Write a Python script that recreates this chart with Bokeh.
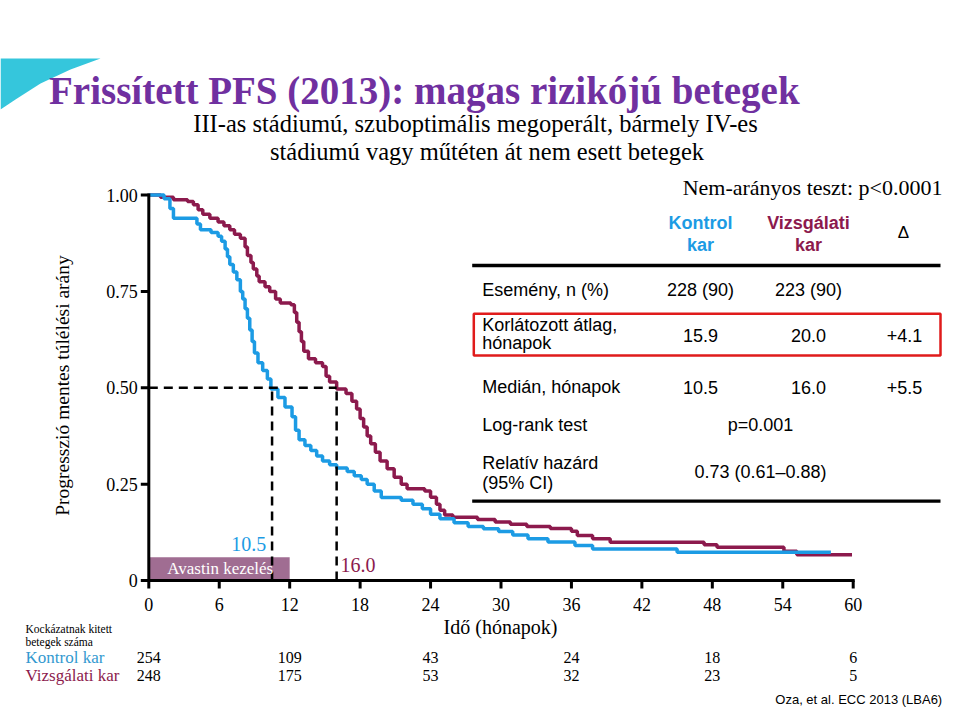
import math
from bokeh.plotting import figure
from bokeh.models import Label, Range1d, PolyAnnotation
from bokeh.embed import file_html
from bokeh.resources import INLINE

# ---------------- data ----------------
kontrol_t = [0, 1.3, 1.8, 2.1, 4.1, 4.4, 5.3, 5.9, 6.2, 6.5, 6.7, 6.9, 7.2, 7.5, 7.8, 8.0,
             8.2, 8.4, 8.6, 8.8, 9.0, 9.3, 9.7, 10.1, 10.4, 11.0, 11.6, 12.2, 12.5, 12.8,
             13.3, 13.8, 14.3, 14.8, 15.4, 16.0, 16.9, 17.5, 18.1, 18.6, 19.2, 19.8, 21.5,
             22.5, 23.3, 24.0, 24.8, 26.0, 27.2, 28.5, 29.8, 31.0, 32.3, 34.0, 36.3, 37.8,
             45.0, 58.1]
kontrol_s = [1.0, 0.99, 0.965, 0.94, 0.925, 0.91, 0.903, 0.893, 0.88, 0.86, 0.84, 0.82,
             0.80, 0.78, 0.75, 0.73, 0.705, 0.68, 0.65, 0.62, 0.59, 0.565, 0.545, 0.523,
             0.497, 0.475, 0.45, 0.425, 0.39, 0.365, 0.35, 0.337, 0.323, 0.31, 0.30, 0.292,
             0.283, 0.272, 0.262, 0.25, 0.232, 0.215, 0.208, 0.198, 0.186, 0.172, 0.16,
             0.15, 0.14, 0.134, 0.127, 0.118, 0.108, 0.10, 0.091, 0.082, 0.073, 0.073]

vizsg_t = [0, 1.0, 2.1, 3.3, 3.8, 4.2, 4.6, 5.2, 5.9, 6.4, 6.9, 7.3, 7.8, 8.2, 8.4, 8.7,
           8.9, 9.2, 9.4, 9.9, 10.3, 10.8, 11.2, 12.1, 12.4, 12.6, 12.8, 13.0, 13.2, 13.6,
           14.2, 14.8, 15.1, 15.4, 16.0, 16.8, 17.3, 17.7, 18.0, 18.3, 18.6, 18.9, 19.3,
           19.7, 20.3, 20.9, 21.5, 22.0, 23.5, 24.0, 24.5, 24.8, 25.2, 25.9, 28.0, 29.5,
           30.8, 32.2, 34.2, 36.0, 36.5, 37.8, 39.3, 47.3, 48.4, 54.1, 55.2, 59.9]
vizsg_s = [1.0, 0.994, 0.988, 0.983, 0.975, 0.962, 0.95, 0.94, 0.93, 0.92, 0.91, 0.898,
           0.888, 0.865, 0.843, 0.825, 0.808, 0.79, 0.775, 0.762, 0.75, 0.73, 0.72, 0.715,
           0.695, 0.67, 0.645, 0.62, 0.595, 0.575, 0.565, 0.555, 0.53, 0.515, 0.497, 0.485,
           0.465, 0.445, 0.42, 0.398, 0.375, 0.355, 0.333, 0.31, 0.29, 0.268, 0.25, 0.238,
           0.232, 0.216, 0.198, 0.182, 0.17, 0.164, 0.158, 0.152, 0.146, 0.14, 0.135,
           0.128, 0.117, 0.108, 0.099, 0.093, 0.086, 0.076, 0.067, 0.067]

medians = [10.5, 16.0]
median_level = 0.5
avastin_end = 12
x_ticks = [0, 6, 12, 18, 24, 30, 36, 42, 48, 54, 60]
y_ticks = [0, 0.25, 0.5, 0.75, 1.0]
y_tick_labels = ["0", "0.25", "0.50", "0.75", "1.00"]

risk_times = [0, 12, 24, 36, 48, 60]
risk_kontrol = [254, 109, 43, 24, 18, 6]
risk_vizsg = [248, 175, 53, 32, 23, 5]

row_events = ["228 (90)", "223 (90)", ""]
row_rmst = ["15.9", "20.0", "+4.1"]
row_median = ["10.5", "16.0", "+5.5"]
logrank_p = "p=0.001"
hazard_ratio = "0.73 (0.61\u20130.88)"

# ---------------- layout ----------------
W, H = 960, 716
PXM = 11.74     # px per month
PXS = 385.5     # px per unit survival
X0 = 148.3      # page x of month 0
Y0 = 580.0      # page y of survival 0
BASE_FIX = 0.33  # em shift so that the given y is the visual baseline


def fx(px):
    return (px - X0) / PXM


def fy(py):
    return (Y0 - py) / PXS


def dx(n):
    return n / PXM


def dy(n):
    return n / PXS


BLUE = "#1c9be4"
MAROON = "#8c1a4d"
SERIF = "Liberation Serif"
SANS = "Liberation Sans"

p = figure(width=W, height=H, x_range=Range1d(fx(0), fx(W)), y_range=Range1d(fy(H), fy(0)),
           output_backend="svg", toolbar_location=None,
           x_axis_location=None, y_axis_location=None,
           min_border_left=0, min_border_right=0, min_border_top=0, min_border_bottom=0)
p.outline_line_color = None
p.grid.visible = False
p.background_fill_color = "white"
p.border_fill_color = "white"


def lab(px, py, text, size, color="black", font=SERIF, align="left",
        baseline="alphabetic", style="normal", angle=0.0, x_data=None):
    if baseline == "alphabetic":
        py = py - BASE_FIX * size
    p.add_layout(Label(x=fx(px) if x_data is None else x_data, y=fy(py), text=text,
                       text_font=font, text_font_size=f"{size}px", text_color=color,
                       text_align=align, text_baseline=baseline, text_font_style=style,
                       angle=angle))


# decoration (top-left swoosh)
p.add_layout(PolyAnnotation(xs=[fx(0), fx(100), fx(70), fx(40), fx(15), fx(0)],
                            ys=[fy(58), fy(58), fy(69), fy(83), fy(99), fy(109)],
                            fill_color="#1fc0d8", fill_alpha=0.9, line_color=None))

# Avastin treatment box
p.quad(left=[0], right=[avastin_end], bottom=[0], top=[dy(23.3)],
       fill_color="#a06d92", line_color=None)

# survival curves
p.step(vizsg_t, vizsg_s, mode="after", line_width=3.5, line_color=MAROON)
p.step(kontrol_t, kontrol_s, mode="after", line_width=3.5, line_color=BLUE)

# median guides
p.segment(x0=[0], x1=[medians[1]], y0=[median_level], y1=[median_level],
          line_color="black", line_width=2.5, line_dash="9 6")
p.segment(x0=medians, x1=medians, y0=[0, 0], y1=[median_level, median_level],
          line_color="black", line_width=2.5, line_dash="9 6")

# ---------------- axes ----------------
p.segment(x0=[0, 0], y0=[0, 0], x1=[x_ticks[-1], 0], y1=[0, y_ticks[-1]],
          line_color="black", line_width=3, line_cap="square")
p.segment(x0=x_ticks, x1=x_ticks, y0=[0] * len(x_ticks), y1=[-dy(8)] * len(x_ticks),
          line_color="black", line_width=3)
p.segment(x0=[0] * len(y_ticks), x1=[-dx(8)] * len(y_ticks), y0=y_ticks, y1=y_ticks,
          line_color="black", line_width=3)
p.text(x=x_ticks, y=[-dy(30 - BASE_FIX * 18)] * len(x_ticks), text=[str(t) for t in x_ticks],
       text_align="center", text_baseline="alphabetic", text_font_size="18px",
       text_font="Liberation Serif", text_color="black")
p.text(x=[-dx(11)] * len(y_ticks), y=y_ticks, text=y_tick_labels,
       text_align="right", text_baseline="middle", text_font_size="18px",
       text_font="Liberation Serif", text_color="black")

lab(219.7, 573.3, "Avastin kezelés", 17, color="white", align="center")
lab(248.3, 550, f"{medians[0]:.1f}", 20, color=BLUE, align="center")
lab(357.5, 570.7, f"{medians[1]:.1f}", 20, color=MAROON, align="center")

# ---------------- titles ----------------
lab(48.5, 102.7, "Frissített PFS (2013): magas rizikójú betegek", 39, color="#7030a0",
    style="bold")
lab(475, 131.5, "III-as stádiumú, szuboptimális megoperált, bármely IV-es", 24.5, align="center")
lab(486.5, 159.5, "stádiumú vagy műtéten át nem esett betegek", 24.5, align="center")

# y axis label
lab(62, 385, "Progresszió mentes túlélési arány", 19.5, align="center", baseline="middle",
    angle=math.pi / 2)

# x axis label
lab(500, 633, "Idő (hónapok)", 20, align="center")

# ---------------- table ----------------
lab(942, 194, "Nem-arányos teszt: p<0.0001", 22, align="right")
lab(700, 228.3, "Kontrol", 18, color=BLUE, font=SANS, align="center", style="bold")
lab(700, 250, "kar", 18, color=BLUE, font=SANS, align="center", style="bold")
lab(808, 228.3, "Vizsgálati", 18, color=MAROON, font=SANS, align="center", style="bold")
lab(808, 250, "kar", 18, color=MAROON, font=SANS, align="center", style="bold")
lab(903, 238, "\u0394", 17, font=SANS, align="center")

p.segment(x0=[fx(471.7)] * 2, x1=[fx(940)] * 2, y0=[fy(265), fy(500.7)], y1=[fy(265), fy(500.7)],
          line_color="black", line_width=3.3)
p.quad(left=[fx(473.3)], right=[fx(940)], top=[fy(313.3)], bottom=[fy(355)],
       fill_color=None, line_color="#e01b1b", line_width=2.5)

cols = [700, 808, 904]
lab(481.7, 295, "Esemény, n (%)", 18, font=SANS)
for cx, v in zip(cols, row_events):
    if v:
        lab(cx, 295, v, 18, font=SANS, align="center")
lab(481.7, 330, "Korlátozott átlag,", 18, font=SANS)
lab(481.7, 348.3, "hónapok", 18, font=SANS)
for cx, v in zip(cols, row_rmst):
    lab(cx, 340.7, v, 18, font=SANS, align="center")
lab(481.7, 392.7, "Medián, hónapok", 18, font=SANS)
for cx, v in zip(cols, row_median):
    lab(cx, 392.7, v, 18, font=SANS, align="center")
lab(481.7, 430.7, "Log-rank test", 18, font=SANS)
lab(760, 430.7, logrank_p, 18, font=SANS, align="center")
lab(481.7, 468.3, "Relatív hazárd", 18, font=SANS)
lab(481.7, 488.3, "(95% CI)", 18, font=SANS)
lab(760, 477.3, hazard_ratio, 18, font=SANS, align="center")

# ---------------- number at risk ----------------
lab(25, 632.7, "Kockázatnak kitett", 11.5)
lab(25, 645, "betegek száma", 11.5)
lab(25, 662.7, "Kontrol kar", 17, color="#3399d0")
lab(25, 680.7, "Vizsgálati kar", 17, color=MAROON)
for t, n in zip(risk_times, risk_kontrol):
    lab(0, 662.7, str(n), 16, align="center", x_data=t)
for t, n in zip(risk_times, risk_vizsg):
    lab(0, 680.7, str(n), 16, align="center", x_data=t)

lab(941.7, 703.3, "Oza, et al. ECC 2013 (LBA6)", 13, font=SANS, align="right")

open("out.html", "w").write(file_html(p, INLINE))
